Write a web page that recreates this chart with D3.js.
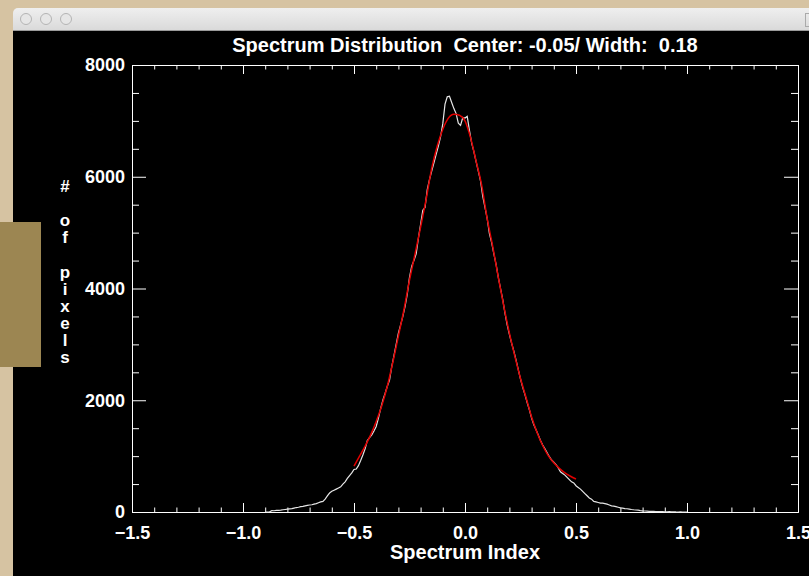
<!DOCTYPE html>
<html>
<head>
<meta charset="utf-8">
<script src="https://cdn.jsdelivr.net/npm/d3@7"></script>
<style>
  body { margin: 0; background: #d6c3a2; }
  svg { display: block; }
  text { font-family: "Liberation Sans", Arial, sans-serif; font-weight: bold; fill: #fff; }
</style>
</head>
<body>
<svg id="spectrum"></svg>
<script>
// histogram, bins of 0.01 from -0.90 to 1.00
var binStart = -0.90, binStep = 0.01;
var counts = [
  0, 0, 5, 25, 22, 28, 30, 32, 40, 45,
  50, 55, 60, 70, 80, 85, 95, 100, 110, 120,
  125, 130, 140, 150, 165, 180, 190, 230, 290, 340,
  370, 390, 410, 430, 450, 500, 540, 600, 650, 700,
  760, 770, 830, 920, 1020, 1130, 1280, 1330, 1380, 1450,
  1530, 1680, 1850, 2000, 2120, 2250, 2360, 2600, 2800, 3000,
  3200, 3350, 3500, 3680, 3900, 4200, 4400, 4500, 4620, 4900,
  5150, 5400, 5450, 5770, 5950, 6100, 6250, 6400, 6550, 6720,
  6950, 7300, 7430, 7440, 7330, 7220, 7130, 6960, 6920, 7060,
  7050, 7080, 6830, 6600, 6450, 6270, 6100, 5920, 5650, 5450,
  5250, 4980, 4820, 4620, 4430, 4200, 4000, 3800, 3560, 3350,
  3180, 3020, 2880, 2720, 2550, 2380, 2230, 2100, 1960, 1830,
  1680, 1560, 1470, 1380, 1280, 1200, 1130, 1060, 990, 930,
  890, 850, 790, 720, 690, 660, 620, 580, 540, 520,
  470, 440, 410, 370, 330, 290, 250, 230, 190, 180,
  170, 160, 160, 150, 140, 125, 110, 105, 95, 85,
  75, 70, 62, 58, 52, 45, 40, 36, 32, 25,
  20, 18, 15, 12, 10, 12, 8, 6, 5, 8,
  3, 4, 6, 2, 3, 1, 0, 2, 0, 0,
  0
];

// fitted curve, read every 0.025 from -0.5 to 0.5
var fitStart = -0.5, fitStep = 0.025;
var fitCounts = [
  820, 1000, 1180, 1380, 1620, 1900, 2250, 2680, 3150, 3620,
  4150, 4620, 5100, 5600, 6150, 6550, 6850, 7050, 7120, 7100,
  7000, 6700, 6280, 5850, 5250, 4750, 4200, 3680, 3200, 2780,
  2390, 2050, 1700, 1420, 1190, 1010, 880, 780, 700, 640,
  590
];

var xMajor = [-1.5, -1.0, -0.5, 0.0, 0.5, 1.0, 1.5];
var yMajor = [0, 2000, 4000, 6000, 8000];
var titleText = "Spectrum Distribution  Center: -0.05/ Width:  0.18";
var xTitle = "Spectrum Index";
var yTitle = "# of pixels";

var hist = counts.map((c, i) => ({ v: binStart + i * binStep, c: c }));
var fit = fitCounts.map((c, i) => ({ v: fitStart + i * fitStep, c: c }));

var W = 809, H = 576;
var margin = { top: 65, right: 11, bottom: 64, left: 132 };
var width = W - margin.left - margin.right,
    height = H - margin.top - margin.bottom;

var svg = d3.select('#spectrum').attr('width', W).attr('height', H);

// desk background + window chrome
svg.append('rect').attr('width', W).attr('height', H).attr('fill', '#d6c3a2');
var grad = svg.append('defs').append('linearGradient')
    .attr('id', 'bar').attr('x1', 0).attr('x2', 0).attr('y1', 0).attr('y2', 1);
grad.append('stop').attr('offset', '0%').attr('stop-color', '#efefef');
grad.append('stop').attr('offset', '100%').attr('stop-color', '#d2d2d2');
svg.append('rect').attr('x', 13).attr('y', 8).attr('width', 810).attr('height', 30)
    .attr('rx', 5).attr('fill', 'url(#bar)');
svg.append('line').attr('x1', 13).attr('x2', W).attr('y1', 30.5).attr('y2', 30.5)
    .style('stroke', '#9a9a9a');
svg.selectAll('circle.btn')
    .data([26, 46, 66])
    .enter()
    .append('circle')
    .attr('class', 'btn')
    .attr('cx', d => d).attr('cy', 19).attr('r', 5.5)
    .attr('fill', '#e6e6e6').attr('stroke', '#b4b4b4');
svg.append('rect').attr('x', 805.5).attr('y', 13.5).attr('width', 8).attr('height', 13)
    .attr('fill', 'none').attr('stroke', '#aaa');
svg.append('rect').attr('x', 13).attr('y', 31).attr('width', W).attr('height', H)
    .attr('fill', '#000');
svg.append('rect').attr('x', 0).attr('y', 222).attr('width', 41).attr('height', 145)
    .attr('fill', '#9c8652');

var g = svg.append('g').attr('transform', 'translate(' + margin.left + ',' + margin.top + ')');

var x = d3.scaleLinear().domain([-1.5, 1.5]).range([0, width]);
var y = d3.scaleLinear().domain([0, 8000]).range([height, 0]);

var xMinor = d3.range(-15, 16).map(d => d / 10).filter(d => Math.abs(d * 2 - Math.round(d * 2)) > 1e-6);
var yMinor = d3.range(0, 8001, 500).filter(d => d % 2000 !== 0);

function styleAxis(sel) {
    sel.selectAll('path, line').style('stroke', '#fff').style('stroke-width', 1);
    sel.selectAll('text').style('font-size', '18px').attr('fill', '#fff');
}

// bottom
g.append('g').attr('transform', 'translate(0,' + height + ')')
    .call(d3.axisBottom(x).tickValues(xMajor).tickFormat(d3.format('.1f'))
        .tickSize(-9).tickSizeOuter(0).tickPadding(14))
    .call(styleAxis);
g.append('g').attr('transform', 'translate(0,' + height + ')')
    .call(d3.axisBottom(x).tickValues(xMinor).tickFormat('').tickSize(-4.5).tickSizeOuter(0))
    .call(styleAxis);
// top
g.append('g')
    .call(d3.axisTop(x).tickValues(xMajor).tickFormat('').tickSize(-9).tickSizeOuter(0))
    .call(styleAxis);
g.append('g')
    .call(d3.axisTop(x).tickValues(xMinor).tickFormat('').tickSize(-4.5).tickSizeOuter(0))
    .call(styleAxis);
// left
g.append('g')
    .call(d3.axisLeft(y).tickValues(yMajor).tickFormat(d3.format('d'))
        .tickSize(-14).tickSizeOuter(0).tickPadding(7))
    .call(styleAxis);
g.append('g')
    .call(d3.axisLeft(y).tickValues(yMinor).tickFormat('').tickSize(-7).tickSizeOuter(0))
    .call(styleAxis);
// right
g.append('g').attr('transform', 'translate(' + width + ',0)')
    .call(d3.axisRight(y).tickValues(yMajor).tickFormat('').tickSize(-14).tickSizeOuter(0))
    .call(styleAxis);
g.append('g').attr('transform', 'translate(' + width + ',0)')
    .call(d3.axisRight(y).tickValues(yMinor).tickFormat('').tickSize(-7).tickSizeOuter(0))
    .call(styleAxis);

// histogram
var line = d3.line().x(d => x(d.v)).y(d => y(d.c));
g.append('path')
    .datum(hist)
    .attr('d', line)
    .attr('fill', 'none')
    .style('stroke', '#e6e6e6')
    .style('stroke-width', 1.2);

// gaussian fit
g.append('path')
    .datum(fit)
    .attr('d', line.curve(d3.curveMonotoneX))
    .attr('fill', 'none')
    .style('stroke', '#e00000')
    .style('stroke-width', 1.5);

// titles
svg.append('text')
    .attr('x', margin.left + width / 2)
    .attr('y', 52)
    .style('text-anchor', 'middle')
    .style('font-size', '20px')
    .style('white-space', 'pre')
    .text(titleText);

svg.append('text')
    .attr('x', margin.left + width / 2)
    .attr('y', 559)
    .style('text-anchor', 'middle')
    .style('font-size', '20px')
    .text(xTitle);

// y title: letters stacked one under the other
svg.append('text')
    .style('text-anchor', 'middle')
    .style('font-size', '17px')
    .style('white-space', 'pre')
    .selectAll('tspan')
    .data(yTitle.split(''))
    .enter()
    .append('tspan')
    .attr('x', 65)
    .attr('y', (d, i) => 192 + i * 17.1)
    .text(d => d);
</script>
</body>
</html>
